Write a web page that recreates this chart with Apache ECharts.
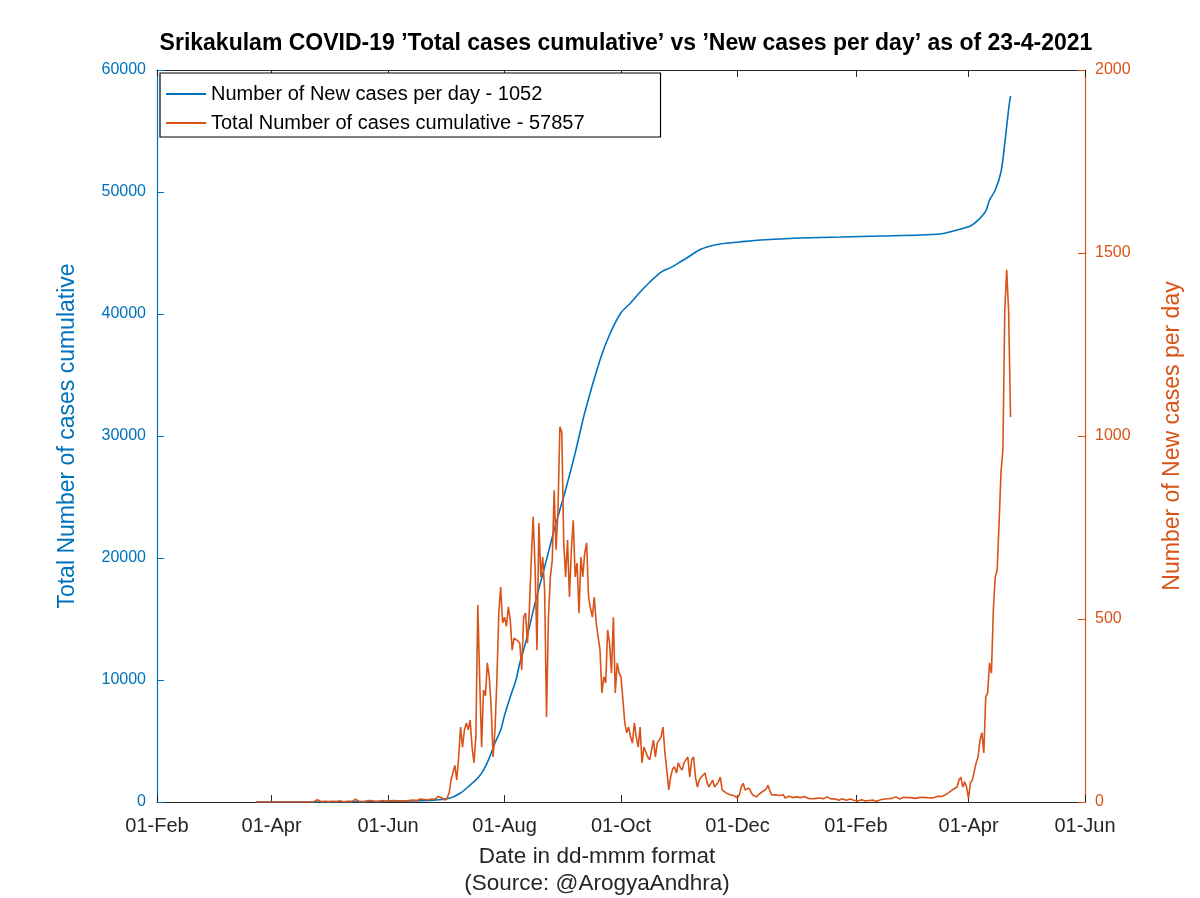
<!DOCTYPE html>
<html>
<head>
<meta charset="utf-8">
<script src="https://cdn.jsdelivr.net/npm/echarts@6/dist/echarts.min.js"></script>
<style>
html,body{margin:0;padding:0;background:#fff;}
#chart{width:1200px;height:898px;}
</style>
</head>
<body>
<div id="chart"></div>
<script>
// ---------- DATA ----------
const dailyStart = '2020-03-24';
const dailyCases = [
  // Mar 24-31 2020
  0,0,0,0,0,0,0,0,
  // Apr
  0,0,0,0,0,0,0,0,0,0, 0,0,0,0,0,0,0,0,0,0, 0,0,0,3,6,2,1,0,2,1,
  // May
  1,0,2,0,1,0,3,2,0,1, 2,0,1,4,8,3,1,2,0,1, 3,2,4,1,2,3,1,2,4,3,2,
  // Jun
  2,3,1,4,2,3,5,2,4,3, 6,4,3,5,7,4,6,8,5,7, 9,6,10,8,12,9,15,20,12,10,
  // Jul
  5,12,25,60,80,100,60,123,205,150, 197,216,197,224,150,107,178,538,333,150, 306,290,380,342,260,123,197,333,516,587,489,
  // Aug
  505,480,533,497,415,448,451,440,434,361, 505,516,434,525,661,779,642,415,762,615, 669,579,232,505,615,661,852,689,798,1025,1010,
  // Sep
  708,615,716,560,689,770,615,653,516,669, 615,680,708,560,530,505,560,489,484,415, 298,342,325,470,434,352,505,298,380,352,
  // Oct
  342,279,216,189,205,178,161,216,178,150, 205,107,150,150,123,115,142,169,123,161, 169,178,205,134,87,33,68,90,96,79,107,
  // Nov
  95,87,107,115,123,68,115,123,68,41, 60,68,72,79,55,41,50,60,41,45, 55,68,33,30,25,22,20,19,18,15,
  // Dec
  11,20,41,51,33,30,38,28,19,16, 14,20,25,28,30,35,46,30,19,22, 20,19,18,22,20,11,14,16,14,12,14,
  // Jan 2021
  14,13,12,14,15,14,10,8,9,12, 10,14,11,8,9,12,14,10,8,6, 9,8,5,7,9,6,5,7,8,6,5,
  // Feb
  4,3,5,6,4,3,2,4,3,5, 3,2,4,6,5,8,11,9,7,10, 12,14,10,8,11,13,9,12,
  // Mar
  14,12,8,10,8,12,10,13,9,12, 11,11,13,12,14,16,14,15,19,20, 25,27,30,35,30,41,60,68,41,55,40,
  // Apr 1-23
  10,52,60,65,107,123,169,189,134,287, 298,380,352,525,615,634,760,900,962,1344, 1454,1340,1052
];

const cumDates = [
  '2020-03-24','2020-05-01','2020-06-01','2020-06-25','2020-07-03','2020-07-09','2020-07-14','2020-07-18',
  '2020-07-21','2020-07-24','2020-07-27','2020-07-30','2020-08-01','2020-08-04','2020-08-07','2020-08-09',
  '2020-08-12','2020-08-17','2020-08-22','2020-08-27','2020-09-02','2020-09-07','2020-09-12','2020-09-20',
  '2020-09-25','2020-10-01','2020-10-06','2020-10-11','2020-10-16','2020-10-22','2020-10-27','2020-11-01',
  '2020-11-06','2020-11-11','2020-11-17','2020-11-22','2020-12-02','2020-12-13','2020-12-23','2021-01-03',
  '2021-01-24','2021-02-14','2021-03-07','2021-03-17','2021-03-22','2021-03-28','2021-04-02','2021-04-06',
  '2021-04-10','2021-04-12','2021-04-15','2021-04-18','2021-04-20','2021-04-22','2021-04-23'
];
const cumCases = [
  0,10,60,150,300,740,1390,1960,
  2620,3600,4840,5900,7100,8610,10000,11390,
  13030,16300,19260,22300,25600,28600,31900,36230,
  38300,40100,40900,41800,42600,43440,43800,44260,
  44750,45250,45570,45740,45900,46070,46150,46230,
  46310,46390,46470,46560,46720,46970,47210,47700,
  48440,49340,50160,51640,54000,56800,57857
];

const xStart = '2020-02-01', xEnd = '2021-06-01';
const xTickDates = ['2020-02-01','2020-04-01','2020-06-01','2020-08-01','2020-10-01','2020-12-01','2021-02-01','2021-04-01','2021-06-01'];
const xTickLabels = ['01-Feb','01-Apr','01-Jun','01-Aug','01-Oct','01-Dec','01-Feb','01-Apr','01-Jun'];

const titleText = 'Srikakulam COVID-19 \u2019Total cases cumulative\u2019 vs \u2019New cases per day\u2019 as of 23-4-2021';
const blueName = 'Number of New cases per day - 1052';
const orangeName = 'Total Number of cases cumulative - 57857';

// ---------- BUILD ----------
const DAY = 86400000;
function ts(s){ const p = s.split('-').map(Number); return Date.UTC(p[0], p[1]-1, p[2]); }
function dayIdx(s){ return Math.round((ts(s) - ts(xStart)) / DAY); }
const startIdx = dayIdx(dailyStart);
const dailyData = dailyCases.map((v,i) => [startIdx + i, v]);
const cumData = cumDates.map((d,i) => [dayIdx(d), cumCases[i]]);
const tickIdx = xTickDates.map(dayIdx);
const labelMap = {};
tickIdx.forEach((t,i) => labelMap[t] = xTickLabels[i]);

const BLUE = '#0072BD', ORANGE = '#D95319', DARK = '#262626';
const FONT = 'Liberation Sans, Arial, Helvetica, sans-serif';

const chart = echarts.init(document.getElementById('chart'));
chart.setOption({
  animation: false,
  backgroundColor: '#fff',
  title: {
    text: titleText, left: 621, top: 27, textAlign: 'center',
    textStyle: { fontFamily: FONT, fontSize: 23, fontWeight: 'bold', color: '#000' }
  },
  grid: { left: 157, right: 115, top: 70, bottom: 96, outerBoundsMode: 'none', containLabel: false },
  legend: {
    orient: 'vertical', left: 160, top: 73,
    data: [blueName, orangeName],
    icon: 'rect', itemWidth: 40, itemHeight: 2, itemGap: 9,
    padding: [11, 76, 4, 6],
    borderColor: '#000', borderWidth: 1.2, backgroundColor: '#fff',
    textStyle: { fontFamily: FONT, fontSize: 20, color: '#000' }
  },
  xAxis: [{
    type: 'value', min: dayIdx(xStart), max: dayIdx(xEnd),
    axisLine: { onZero: false, lineStyle: { color: DARK, width: 1 } },
    axisTick: { inside: true, length: 7, customValues: tickIdx, lineStyle: { color: DARK } },
    axisLabel: { customValues: tickIdx, formatter: v => labelMap[v] || '', color: DARK, fontFamily: FONT, fontSize: 20, margin: 14 },
    splitLine: { show: false },
    name: 'Date in dd-mmm format\n(Source: @ArogyaAndhra)', nameLocation: 'middle', nameGap: 41,
    nameTextStyle: { fontFamily: FONT, fontSize: 22.5, color: DARK, lineHeight: 27, verticalAlign: 'top', padding: [0, 48, 0, 0] }
  }, {
    type: 'value', position: 'top', min: dayIdx(xStart), max: dayIdx(xEnd),
    axisLine: { onZero: false, lineStyle: { color: DARK, width: 1 } },
    axisTick: { inside: true, length: 7, customValues: tickIdx, lineStyle: { color: DARK } },
    axisLabel: { show: false },
    splitLine: { show: false }
  }],
  yAxis: [{
    type: 'value', min: 0, max: 60000, interval: 10000, position: 'left',
    axisLine: { show: true, onZero: false, lineStyle: { color: BLUE, width: 1.2 } },
    axisTick: { show: true, inside: true, length: 7, lineStyle: { color: BLUE } },
    axisLabel: { color: BLUE, fontFamily: FONT, fontSize: 16, margin: 11, formatter: v => String(v) },
    splitLine: { show: false },
    name: 'Total Number of cases cumulative', nameLocation: 'middle', nameGap: 78,
    nameTextStyle: { color: BLUE, fontFamily: FONT, fontSize: 23 }
  }, {
    type: 'value', min: 0, max: 2000, interval: 500, position: 'right',
    axisLine: { show: true, onZero: false, lineStyle: { color: ORANGE, width: 1.2 } },
    axisTick: { show: true, inside: true, length: 7, lineStyle: { color: ORANGE } },
    axisLabel: { color: ORANGE, fontFamily: FONT, fontSize: 16, margin: 10, formatter: v => String(v) },
    splitLine: { show: false },
    name: 'Number of New cases per day', nameLocation: 'middle', nameGap: 76,
    nameTextStyle: { color: ORANGE, fontFamily: FONT, fontSize: 23 }
  }],
  series: [{
    name: blueName, type: 'line', xAxisIndex: 0, yAxisIndex: 0,
    data: cumData, showSymbol: false, symbol: 'none', smooth: 0.3,
    lineStyle: { color: BLUE, width: 1.6 }, itemStyle: { color: BLUE }
  }, {
    name: orangeName, type: 'line', xAxisIndex: 0, yAxisIndex: 1,
    data: dailyData, showSymbol: false, symbol: 'none',
    lineStyle: { color: ORANGE, width: 1.6 }, itemStyle: { color: ORANGE }
  }]
});
</script>
</body>
</html>
